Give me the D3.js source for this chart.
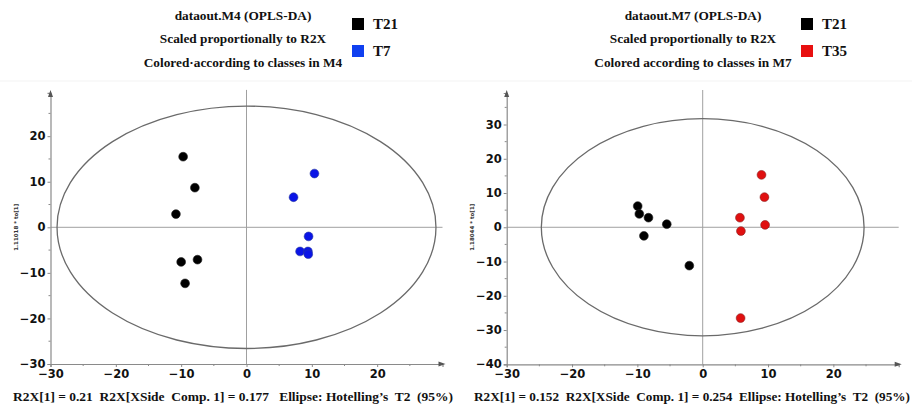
<!DOCTYPE html>
<html><head><meta charset="utf-8">
<script src="https://cdn.jsdelivr.net/npm/d3@7"></script>
<style>body{margin:0;background:#fff}svg{display:block}</style>
</head><body>
<svg id="c" width="912" height="407"></svg>
<script>
// ---- data ----
const m4Titles = ["dataout.M4 (OPLS-DA)", "Scaled proportionally to R2X", "Colored\u00B7according to classes in M4"];
const m7Titles = ["dataout.M7 (OPLS-DA)", "Scaled proportionally to R2X", "Colored according to classes in M7"];
const m4Classes = ["T21", "T7"];
const m7Classes = ["T21", "T35"];
const m4T21 = [[-9.7,15.5],[-7.9,8.7],[-10.8,2.9],[-10.0,-7.6],[-7.5,-7.1],[-9.4,-12.3]];
const m4T7 = [[10.4,11.8],[7.2,6.6],[9.5,-2.0],[8.2,-5.3],[9.4,-5.3],[9.45,-5.9]];
const m7T21 = [[-9.95,6.2],[-9.7,3.9],[-8.3,2.8],[-5.5,0.9],[-9.0,-2.5],[-2.05,-11.2]];
const m7T35 = [[9.0,15.3],[9.45,8.8],[5.7,2.8],[5.85,-1.1],[9.55,0.7],[5.8,-26.5]];
const m4XTicks = [-30,-20,-10,0,10,20];
const m4YTicks = [-30,-20,-10,0,10,20];
const m7XTicks = [-30,-20,-10,0,10,20];
const m7YTicks = [-40,-30,-20,-10,0,10,20,30];
const m4Ellipse = [29.0, 26.6];   // semi-axes (x, y)
const m7Ellipse = [24.7, 31.7];
const m4YLabel = "1.11018 * to[1]";
const m7YLabel = "1.18044 * to[1]";
const m4Footer = "R2X[1] = 0.21  R2X[XSide  Comp. 1] = 0.177   Ellipse: Hotelling\u2019s  T2  (95%)";
const m7Footer = "R2X[1] = 0.152  R2X[XSide  Comp. 1] = 0.254  Ellipse: Hotelling\u2019s  T2  (95%)";

const svg = d3.select("#c");

function panel(o){
  const g = svg.append("g");
  const x = d3.scaleLinear().domain(o.xDom).range(o.xRange);
  const y = d3.scaleLinear().domain(o.yDom).range(o.yRange);
  const axisCol = "#8a8a8a";
  // faint frame line
  g.append("line").attr("x1",o.frame[0]).attr("x2",o.frame[1]).attr("y1",81).attr("y2",81)
    .attr("stroke","#f3f3f3").attr("stroke-width",1);
  // crosshair
  g.append("line").attr("x1",x(0)).attr("x2",x(0)).attr("y1",y(o.yDom[1])-3).attr("y2",y(o.yDom[0]))
    .attr("stroke","#a0a0a0").attr("stroke-width",1);
  g.append("line").attr("x1",x(o.xDom[0])).attr("x2",x(o.xDom[1])).attr("y1",y(0)).attr("y2",y(0))
    .attr("stroke","#a0a0a0").attr("stroke-width",1);
  // ellipse
  g.append("ellipse").attr("cx",x(0)).attr("cy",y(0))
    .attr("rx",x(o.ell[0])-x(0)).attr("ry",y(0)-y(o.ell[1]))
    .attr("fill","none").attr("stroke","#6a6a6a").attr("stroke-width",1.3);
  // axes
  const xa = g.append("g").attr("transform",`translate(0,${y(o.yDom[0])})`)
    .call(d3.axisBottom(x).tickValues(o.xTicks).tickSize(3).tickPadding(3).tickFormat(d3.format("d")));
  const ya = g.append("g").attr("transform",`translate(${x(o.xDom[0])},0)`)
    .call(d3.axisLeft(y).tickValues(o.yTicks).tickSize(3).tickPadding(2).tickFormat(d3.format("d")));
  [xa,ya].forEach(a=>{
    a.select(".domain").attr("stroke",axisCol).attr("stroke-width",1.2);
    a.selectAll(".tick line").attr("stroke",axisCol);
    a.selectAll(".tick text").attr("fill","#111").attr("font-family","DejaVu Sans, Verdana, sans-serif")
      .attr("font-weight","bold").attr("font-size",11.5);
  });
  // minor ticks
  const xMinor = d3.range(o.xDom[0]+5, o.xDom[1], 10);
  g.selectAll(null).data(xMinor).join("line")
    .attr("x1",d=>x(d)).attr("x2",d=>x(d)).attr("y1",y(o.yDom[0])).attr("y2",y(o.yDom[0])+2)
    .attr("stroke",axisCol);
  const yMinor = d3.range(o.yTicks[0]+5, o.yDom[1], 10);
  g.selectAll(null).data(yMinor).join("line")
    .attr("x1",x(o.xDom[0])-2).attr("x2",x(o.xDom[0])).attr("y1",d=>y(d)).attr("y2",d=>y(d))
    .attr("stroke",axisCol);
  // arrows
  const xe = x(o.xDom[1]), ye = y(o.yDom[0]);
  g.append("path").attr("d",`M${xe+3},${ye} L${xe-4},${ye-2.5} L${xe-4},${ye+2.5} Z`).attr("fill","#555");
  const xs = x(o.xDom[0]), yt = y(o.yDom[1]);
  g.append("path").attr("d",`M${xs},${yt-3} L${xs-2.5},${yt+4} L${xs+2.5},${yt+4} Z`).attr("fill","#555");
  // y label
  g.append("text").attr("transform",`translate(${o.yLabX},${y(0)}) rotate(-90)`)
    .attr("text-anchor","middle").attr("dominant-baseline","middle")
    .attr("font-family","DejaVu Sans, sans-serif").attr("font-size",5.5).attr("font-weight","bold")
    .attr("fill","#333").text(o.yLabel);
  // points
  o.series.forEach(s=>{
    g.selectAll(null).data(s.data).join("circle")
      .attr("cx",d=>x(d[0])).attr("cy",d=>y(d[1])).attr("r",4.4)
      .attr("fill",s.color).attr("stroke",s.stroke).attr("stroke-width",0.6);
  });
  // titles
  const tf = "Liberation Serif, Times New Roman, serif";
  o.titles.forEach((t,i)=>{
    g.append("text").attr("x",o.titleX).attr("y",19.5+i*23.5).attr("text-anchor","middle")
      .attr("font-family",tf).attr("font-weight","bold").attr("font-size",13.3).attr("fill","#111").text(t);
  });
  // legend
  o.series.forEach((s,i)=>{
    g.append("rect").attr("x",o.legX).attr("y",18+i*27).attr("width",12).attr("height",12).attr("fill",s.legColor);
    g.append("text").attr("x",o.legX+21).attr("y",29+i*27).attr("font-family",tf).attr("font-weight","bold")
      .attr("font-size",15).attr("fill","#111").text(s.name);
  });
  // footer
  g.append("text").attr("x",o.footX).attr("y",401).attr("font-family",tf).attr("font-weight","bold")
    .attr("font-size",13).attr("fill","#111").attr("textLength",o.footW).attr("lengthAdjust","spacingAndGlyphs")
    .style("white-space","pre").text(o.footer);
}

panel({
  xDom:[-30,30], xRange:[50.5,442.5], yDom:[-30,29.5], yRange:[364,92.9],
  xTicks:m4XTicks, yTicks:m4YTicks, ell:m4Ellipse, yLabel:m4YLabel, yLabX:16,
  titles:m4Titles, titleX:243, legX:352, footer:m4Footer, footX:13, footW:440, frame:[0,456],
  series:[{name:m4Classes[0],data:m4T21,color:"#000",stroke:"#222",legColor:"#000"},
          {name:m4Classes[1],data:m4T7,color:"#0a14e6",stroke:"#2a3aa0",legColor:"#1040f0"}]
});
panel({
  xDom:[-30,30], xRange:[506.7,898.7], yDom:[-40,39.2], yRange:[364.3,93],
  xTicks:m7XTicks, yTicks:m7YTicks, ell:m7Ellipse, yLabel:m7YLabel, yLabX:472,
  titles:m7Titles, titleX:693, legX:801, footer:m7Footer, footX:474, footW:436, frame:[456,912],
  series:[{name:m7Classes[0],data:m7T21,color:"#000",stroke:"#222",legColor:"#000"},
          {name:m7Classes[1],data:m7T35,color:"#e01010",stroke:"#8a2020",legColor:"#e81010"}]
});
</script>
</body></html>
